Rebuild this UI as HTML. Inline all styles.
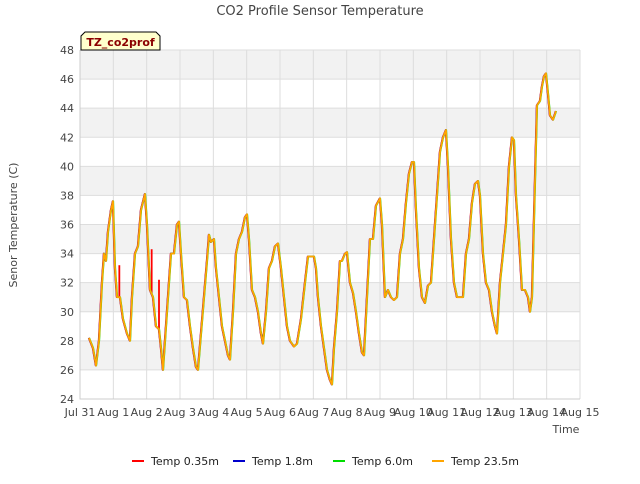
<!DOCTYPE html>
<html><head><meta charset="utf-8"><style>
body{margin:0;background:#fff;font-family:"DejaVu Sans","Liberation Sans",sans-serif}
svg text{font-family:"DejaVu Sans","Liberation Sans",sans-serif}
</style></head><body>
<svg id="chart" width="640" height="480" xmlns="http://www.w3.org/2000/svg">
<text x="320" y="15" text-anchor="middle" font-size="13" fill="#444">CO2 Profile Sensor Temperature</text>
<g id="bands"></g>
<g id="grid"></g>
<g id="series"></g>
<g id="axes"></g>
<g>
<path d="M81,50 L81,36 L85,32 L156,32 L160,36 L160,50 Z" fill="#ffffcc" stroke="#000" stroke-width="1"/>
<text x="120.5" y="46" text-anchor="middle" font-size="11" font-weight="bold" fill="#8b0000">TZ_co2prof</text>
</g>
<text x="17" y="225" transform="rotate(-90 17 225)" text-anchor="middle" font-size="11" fill="#444">Senor Temperature (C)</text>
<text x="566" y="433" text-anchor="middle" font-size="11" fill="#444">Time</text>
<g id="legend"></g>
</svg>
<script>
const yTicks=[24,26,28,30,32,34,36,38,40,42,44,46,48];
const xTickLabels=["Jul 31","Aug 1","Aug 2","Aug 3","Aug 4","Aug 5","Aug 6","Aug 7","Aug 8","Aug 9","Aug 10","Aug 11","Aug 12","Aug 13","Aug 14","Aug 15"];
const seriesNames=["Temp 0.35m","Temp 1.8m","Temp 6.0m","Temp 23.5m"];
const seriesColors=["#ff0000","#0000cc","#00dd00","#ffa500"];
const times=[0.27,0.39,0.48,0.57,0.66,0.72,0.78,0.84,0.93,0.99,1.05,1.11,1.2,1.29,1.41,1.5,1.56,1.65,1.74,1.83,1.95,2.01,2.1,2.19,2.28,2.37,2.43,2.49,2.55,2.64,2.73,2.82,2.91,2.97,3.03,3.12,3.21,3.3,3.39,3.48,3.54,3.63,3.72,3.81,3.87,3.93,4.02,4.08,4.17,4.26,4.35,4.44,4.5,4.59,4.68,4.77,4.86,4.95,5.01,5.07,5.16,5.25,5.34,5.43,5.49,5.58,5.67,5.76,5.85,5.94,6.03,6.12,6.21,6.3,6.42,6.51,6.63,6.75,6.84,6.93,7.02,7.08,7.14,7.23,7.32,7.41,7.5,7.56,7.62,7.71,7.8,7.86,7.95,8.01,8.1,8.19,8.28,8.37,8.46,8.52,8.61,8.7,8.79,8.88,9.0,9.06,9.15,9.24,9.33,9.42,9.51,9.6,9.69,9.78,9.87,9.96,10.02,10.08,10.17,10.26,10.35,10.44,10.53,10.62,10.71,10.8,10.89,10.98,11.04,11.13,11.22,11.31,11.4,11.49,11.58,11.67,11.76,11.85,11.94,12.0,12.09,12.18,12.27,12.36,12.45,12.51,12.6,12.69,12.78,12.87,12.96,13.02,13.08,13.17,13.26,13.35,13.44,13.5,13.56,13.65,13.71,13.8,13.86,13.92,13.98,14.04,14.1,14.19,14.28];
const tempBase=[28.2,27.5,26.3,28,32,34,33.5,35.5,37,37.6,33,31,31,29.5,28.5,28,31,34,34.5,37,38.1,36,31.5,31,29,28.8,27.5,26,28,31,34,34,36,36.2,34,31,30.8,29,27.5,26.2,26,28.5,31,33.5,35.3,34.8,35,33,31,29,28,27,26.7,30,34,35,35.5,36.5,36.7,35,31.5,31,30,28.5,27.8,30,33,33.5,34.5,34.7,33,31,29,28,27.6,27.8,29.5,32,33.8,33.8,33.8,33,31,29,27.5,26,25.3,25,27.5,30,33.5,33.5,34,34.1,32,31.3,30,28.5,27.2,27,31,35,35,37.3,37.8,36,31,31.5,31,30.8,31,34,35,37.5,39.5,40.3,40.3,37,33,31,30.6,31.8,32,35,38,41,42,42.5,40,35,32,31,31,31,34,35,37.5,38.8,39,38,34,32,31.5,30,29,28.5,32,34,36,40,42,41.8,38,35,31.5,31.5,31,30,31,39,44.2,44.5,45.5,46.2,46.4,45,43.5,43.2,43.8];
const spikeTimes=[1.18,2.15,2.37];
const spikeVals=[33.2,34.3,32.2];

const X0=80,X1=580,Y0=399,Y1=50,NS="http://www.w3.org/2000/svg";
const xs=d=>X0+(X1-X0)*d/15;
const ys=v=>Y0-(Y0-Y1)*(v-24)/24;
function mk(tag,attrs,parent){const e=document.createElementNS(NS,tag);for(const k in attrs)e.setAttribute(k,attrs[k]);parent.appendChild(e);return e;}
const bands=document.getElementById('bands'),grid=document.getElementById('grid'),axes=document.getElementById('axes'),ser=document.getElementById('series'),leg=document.getElementById('legend');
for(let i=0;i<yTicks.length-1;i++){
  if(i%2===1){const r=mk('rect',{x:X0,y:ys(yTicks[i+1]),width:X1-X0,height:ys(yTicks[i])-ys(yTicks[i+1]),fill:'#f2f2f2'},bands);
  
  }
}
yTicks.forEach(v=>{
  const l=mk('line',{x1:X0,x2:X1,y1:ys(v),y2:ys(v),stroke:'#dddddd'},grid);
  
  
  const t=mk('text',{x:X0-6,y:ys(v)+4,'text-anchor':'end','font-size':'11',fill:'#444'},axes);t.textContent=v;
  
  
});
xTickLabels.forEach((s,i)=>{
  const l=mk('line',{x1:xs(i),x2:xs(i),y1:Y1,y2:Y0,stroke:'#dddddd'},grid);
  
  
  const t=mk('text',{x:xs(i),y:Y0+17,'text-anchor':'middle','font-size':'11',fill:'#444'},axes);t.textContent=s;
  
  
});
const ax=mk('path',{d:`M${X0},${Y1}V${Y0}H${X1}`,fill:'none',stroke:'#ccc'},axes);


seriesColors.forEach((c,si)=>{
  const pts=times.map((t,i)=>`${xs(t).toFixed(1)},${ys(tempBase[i]).toFixed(1)}`).join(' ');
  const p=mk('polyline',{points:pts,fill:'none',stroke:c,'stroke-width':si===3?1.8:1.6,'stroke-linejoin':'round',transform:`translate(${[-0.4,-0.2,0.3,0][si]},0)`},ser);
  
  
  if(si===0){spikeTimes.forEach((t,k)=>{
    let j=0;while(j<times.length-1&&times[j+1]<t)j++;
    const base=tempBase[j]+(tempBase[j+1]-tempBase[j])*(t-times[j])/(times[j+1]-times[j]);
    const s=mk('line',{x1:xs(t),x2:xs(t),y1:ys(base),y2:ys(spikeVals[k]),stroke:c,'stroke-width':1.8},ser);
    
    
  });}
});
const lx=[132,233,333,432];
seriesNames.forEach((n,i)=>{
  const g=mk('g',{},leg);
  
  
  mk('line',{x1:lx[i],x2:lx[i]+12,y1:461,y2:461,stroke:seriesColors[i],'stroke-width':2},g);
  const t=mk('text',{x:lx[i]+19,y:465,'font-size':'11',fill:'#222'},g);t.textContent=n;
});
</script>
</body></html>
